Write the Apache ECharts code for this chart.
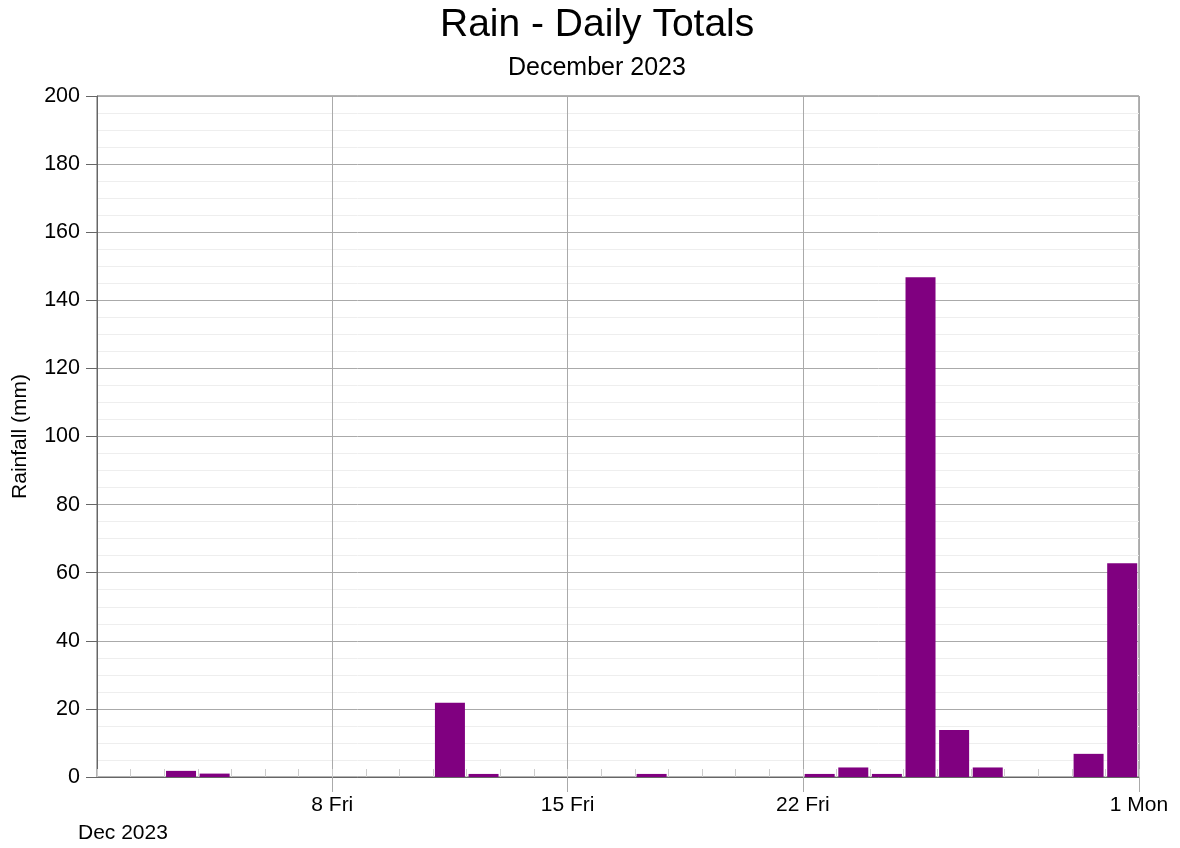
<!DOCTYPE html>
<html>
<head>
<meta charset="utf-8">
<script src="https://cdn.jsdelivr.net/npm/echarts@6/dist/echarts.min.js"></script>
<style>html,body{margin:0;padding:0;background:#fff}#c{width:1180px;height:848px}</style>
</head>
<body>
<div id="c"></div>
<script>
// Day of month (December 2023)
const days = [1,2,3,4,5,6,7,8,9,10,11,12,13,14,15,16,17,18,19,20,21,22,23,24,25,26,27,28,29,30,31];
// Daily rainfall (mm)
const rain = [0,0,1.8,1.0,0,0,0,0,0,0,21.8,0.9,0,0,0,0,0.9,0,0,0,0,0.9,2.8,0.9,146.8,13.8,2.8,0,0,6.8,62.8];
// Major x tick positions (days since Dec 1 00:00) and their labels
const weekTicks = [7, 14, 21, 31];
const weekLabels = ['8 Fri', '15 Fri', '22 Fri', '1 Mon'];
const yTicks = {min: 0, max: 200, step: 20};

const FONT = 'Liberation Sans';
const chart = echarts.init(document.getElementById('c'));
chart.setOption({
  animation: false,
  textStyle: {fontFamily: FONT, color: '#000'},
  title: [
    {text: 'Rain - Daily Totals', left: 435, top: 1,
     textStyle: {fontSize: 39, fontWeight: 'normal', color: '#000', fontFamily: FONT}},
    {text: 'December 2023', left: 503, top: 51,
     textStyle: {fontSize: 25, fontWeight: 'normal', color: '#000', fontFamily: FONT}},
    {text: 'Dec 2023', left: 73, top: 818,
     textStyle: {fontSize: 21, fontWeight: 'normal', color: '#000', fontFamily: FONT}}
  ],
  grid: {left: 97, right: 41, top: 96, bottom: 71, show: true, borderColor: '#666', borderWidth: 1, backgroundColor: 'transparent'},
  xAxis: [
    {
      type: 'value', min: 0, max: 31, interval: 7, position: 'bottom',
      axisLine: {show: true, onZero: false, lineStyle: {color: '#666'}},
      axisTick: {show: true, inside: false, length: 15, customValues: weekTicks, lineStyle: {color: '#aaa'}},
      axisLabel: {show: true, customValues: weekTicks, margin: 18, fontSize: 21, color: '#000', fontFamily: FONT,
        formatter: v => { const i = weekTicks.indexOf(v); return i >= 0 ? weekLabels[i] : ''; }},
      splitLine: {show: true, lineStyle: {color: '#aaa', width: 1}}
    },
    {
      type: 'value', min: 0, max: 31, interval: 1, position: 'bottom',
      axisLine: {show: false},
      axisTick: {show: true, inside: true, length: 8, lineStyle: {color: '#ccc'}},
      axisLabel: {show: false},
      splitLine: {show: false}
    }
  ],
  yAxis: {
    type: 'value', min: yTicks.min, max: yTicks.max, interval: yTicks.step,
    name: 'Rainfall (mm)', nameLocation: 'middle', nameGap: 66, nameRotate: 90,
    nameTextStyle: {fontSize: 21, color: '#000', fontFamily: FONT},
    axisLine: {show: true, lineStyle: {color: '#666'}},
    axisTick: {show: true, inside: false, length: 11, lineStyle: {color: '#666'}},
    axisLabel: {fontSize: 21.5, color: '#000', margin: 17, fontFamily: FONT},
    splitLine: {show: true, lineStyle: {color: '#aaa'}},
    minorTick: {show: false, splitNumber: 4},
    minorSplitLine: {show: true, lineStyle: {color: '#eee'}}
  },
  series: [{
    type: 'bar', xAxisIndex: 1, barWidth: 30,
    itemStyle: {color: '#800080'},
    data: days.map((d, i) => [d - 0.5, rain[i]])
  }]
});
</script>
</body>
</html>
